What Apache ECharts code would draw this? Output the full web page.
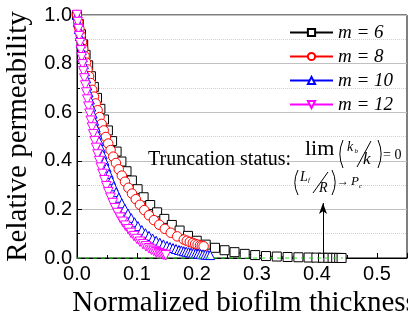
<!DOCTYPE html>
<html><head><meta charset="utf-8">
<script src="https://cdn.jsdelivr.net/npm/echarts@6/dist/echarts.min.js"></script>
<style>html,body{margin:0;padding:0;background:#fff}#c{width:408px;height:320px}</style>
</head><body><div id="c"></div>
<script>
const seriesNames = ['m = 6', 'm = 8', 'm = 10', 'm = 12'];
const m6 = [[0,1.0],[0.003,0.963],[0.0066,0.921],[0.0103,0.879],[0.0143,0.836],[0.0186,0.793],[0.0232,0.748],[0.0281,0.704],[0.0334,0.659],[0.039,0.614],[0.045,0.570],[0.0515,0.525],[0.0585,0.481],[0.066,0.438],[0.074,0.397],[0.0825,0.357],[0.0915,0.319],[0.101,0.283],[0.111,0.250],[0.122,0.218],[0.1335,0.188],[0.1455,0.161],[0.158,0.136],[0.171,0.113],[0.185,0.091],[0.1995,0.071],[0.2145,0.055],[0.23,0.042],[0.246,0.032],[0.2625,0.024],[0.2795,0.017],[0.297,0.012],[0.315,0.008],[0.333,0.006],[0.351,0.004],[0.369,0.003],[0.386,0.002],[0.399,0.0015],[0.41,0.001],[0.419,0.0008],[0.426,0.0006],[0.432,0.0004],[0.437,0.0002],[0.441,0.0001]];
const m8 = [[0,1.0],[0.002,0.972],[0.004,0.944],[0.0061,0.916],[0.0082,0.888],[0.0104,0.860],[0.0127,0.832],[0.0151,0.804],[0.0175,0.776],[0.020,0.748],[0.0227,0.720],[0.0254,0.692],[0.0283,0.664],[0.0312,0.636],[0.0343,0.608],[0.0376,0.580],[0.041,0.552],[0.0445,0.525],[0.0481,0.498],[0.052,0.471],[0.056,0.444],[0.0604,0.417],[0.0649,0.391],[0.0696,0.365],[0.0747,0.339],[0.080,0.314],[0.0857,0.289],[0.0917,0.265],[0.098,0.242],[0.1049,0.219],[0.1121,0.197],[0.1199,0.176],[0.1282,0.156],[0.1371,0.137],[0.1463,0.120],[0.1563,0.104],[0.167,0.089],[0.178,0.076],[0.183,0.071],[0.188,0.066],[0.193,0.062],[0.197,0.058],[0.201,0.055],[0.205,0.052],[0.208,0.050],[0.211,0.048]];
const m10 = [[0,1.0],[0.0015,0.971],[0.003,0.942],[0.0046,0.913],[0.0062,0.884],[0.0078,0.855],[0.0096,0.826],[0.0114,0.797],[0.0132,0.768],[0.0151,0.739],[0.0171,0.710],[0.0192,0.681],[0.0214,0.652],[0.0237,0.623],[0.026,0.594],[0.0285,0.565],[0.0311,0.537],[0.0338,0.509],[0.0366,0.481],[0.0396,0.453],[0.0427,0.426],[0.0459,0.399],[0.0494,0.372],[0.0531,0.346],[0.057,0.320],[0.061,0.295],[0.0653,0.271],[0.0697,0.248],[0.0746,0.225],[0.0797,0.203],[0.0849,0.183],[0.0904,0.164],[0.0959,0.147],[0.1016,0.131],[0.108,0.115],[0.114,0.102],[0.120,0.091],[0.126,0.080],[0.132,0.071],[0.138,0.063],[0.144,0.056],[0.150,0.050],[0.155,0.045],[0.160,0.041],[0.165,0.037],[0.170,0.033],[0.174,0.031],[0.178,0.028],[0.182,0.026],[0.186,0.024],[0.190,0.022],[0.194,0.021],[0.198,0.019],[0.202,0.018],[0.206,0.016],[0.210,0.015],[0.214,0.014],[0.218,0.013],[0.222,0.012]];
const m12 = [[0,1.0],[0.0012,0.971],[0.0024,0.942],[0.0036,0.913],[0.0049,0.884],[0.0063,0.855],[0.0077,0.826],[0.0091,0.797],[0.0106,0.768],[0.0121,0.739],[0.0137,0.710],[0.0154,0.681],[0.0171,0.652],[0.0189,0.623],[0.0208,0.594],[0.0228,0.565],[0.0249,0.537],[0.027,0.509],[0.0293,0.481],[0.0317,0.453],[0.0341,0.426],[0.0368,0.399],[0.0396,0.372],[0.0425,0.346],[0.0456,0.320],[0.0488,0.295],[0.0522,0.271],[0.0558,0.248],[0.0595,0.226],[0.0634,0.205],[0.0675,0.185],[0.0718,0.166],[0.0761,0.149],[0.0807,0.133],[0.0855,0.118],[0.090,0.103],[0.095,0.090],[0.100,0.078],[0.105,0.067],[0.110,0.057],[0.115,0.048],[0.120,0.040],[0.124,0.034],[0.128,0.029],[0.132,0.024],[0.136,0.020],[0.139,0.017],[0.142,0.015],[0.145,0.013],[0.148,0.011]];
const zeroLine = [[0,0],[0.443,0]];
const arrowX = 0.41;
const arrowTop = 0.226;
const xAxisRange = [0, 0.55, 0.1];
const yAxisRange = [0, 1.0, 0.2];
const xLabel = 'Normalized biofilm thickness';
const yLabel = 'Relative permeability';

const colors = ['#000000', '#ff0000', '#0000ff', '#ff00ff'];
const symbols = ['rect', 'circle', 'triangle', 'triangle'];
const rotates = [0, 0, 0, 180];
const sizes = [9, 9.5, 9, 9.5];
const datasets = [m6, m8, m10, m12];

const SERIF = '"Liberation Serif", "Times New Roman", serif';
const SANS = '"Liberation Sans", Arial, sans-serif';

const series = datasets.map((d, i) => ({
  name: seriesNames[i], type: 'line', data: d,
  symbol: symbols[i], symbolSize: sizes[i], symbolRotate: rotates[i],
  showAllSymbol: true,
  itemStyle: { color: '#fff', borderColor: colors[i], borderWidth: 1 },
  lineStyle: { color: colors[i], width: 1 },
  emphasis: { disabled: true }, z: 2 + i
}));
series.push({
  type: 'line', data: zeroLine, showSymbol: false, clip: false, z: 10,
  lineStyle: { color: '#33dd33', width: 1, type: [4, 4] }, emphasis: { disabled: true }
});
series.push({
  type: 'line', data: [], z: 11,
  markLine: {
    silent: true, symbol: ['none', 'arrow'], symbolSize: [6, 11], animation: false,
    label: { show: false }, lineStyle: { color: '#000', width: 1, type: 'solid' },
    data: [[{ coord: [arrowX, 0] }, { coord: [arrowX, arrowTop] }]]
  }
});

function txt(x, y, text, size, italic) {
  return { type: 'text', x: x, y: y, z: 100,
    style: { text: text, font: (italic ? 'italic ' : '') + size + 'px ' + SERIF, fill: '#000', align: 'left', verticalAlign: 'middle' } };
}
function paren(xEdge, cy, half, bulge, left) {
  const r = (half * half + bulge * bulge) / (2 * bulge);
  const th = Math.asin(half / r);
  const cx = left ? xEdge + r : xEdge - r;
  return { type: 'arc', z: 100, shape: { cx: cx, cy: cy, r: r,
    startAngle: left ? Math.PI - th : -th, endAngle: left ? Math.PI + th : th, clockwise: true },
    style: { stroke: '#000', lineWidth: 1, fill: 'none' } };
}
function seg(x1, y1, x2, y2) {
  return { type: 'line', z: 100, shape: { x1: x1, y1: y1, x2: x2, y2: y2 }, style: { stroke: '#000', lineWidth: 1 } };
}

const graphic = [
  txt(148, 160, 'Truncation status:', 20, false),
  txt(305, 149, 'lim', 22, false),
  paren(340, 154, 14, 3, true),
  paren(381, 154, 14, 3, false),
  txt(347, 147, 'k', 14, true),
  txt(354.5, 151, 'b', 7, true),
  seg(357, 167, 371, 141),
  txt(363, 159.5, 'k', 17, true),
  txt(383, 155.5, '= 0', 14, false),
  paren(295, 182.5, 12.5, 3, true),
  paren(335, 182.5, 12.5, 3, false),
  txt(300, 177, 'L', 14, true),
  txt(308, 180.5, 'f', 7, true),
  seg(313, 193, 328, 172),
  txt(319, 188, 'R', 14, true),
  txt(337, 182, '\u2192', 12, false),
  txt(351, 182, 'P', 13, true),
  txt(359, 186, 'c', 7, true)
];

const chart = echarts.init(document.getElementById('c'), null, { renderer: 'canvas' });
chart.setOption({
  animation: false,
  backgroundColor: '#fff',
  grid: { left: 77, right: 1, top: 15, bottom: 62, show: true, borderColor: '#000', borderWidth: 1,
    backgroundColor: 'transparent', containLabel: false, outerBoundsMode: 'none' },
  legend: {
    data: seriesNames, orient: 'vertical', left: 289, top: 23, padding: 0,
    itemWidth: 43, itemHeight: 9, itemGap: 5,
    textStyle: { fontFamily: SERIF, fontStyle: 'italic', fontSize: 19, color: '#000' }
  },
  xAxis: {
    type: 'value', min: xAxisRange[0], max: xAxisRange[1], interval: xAxisRange[2],
    name: xLabel, nameLocation: 'middle', nameGap: 22,
    nameTextStyle: { fontFamily: SERIF, fontSize: 29, color: '#000', padding: [0, 0, 0, 5] },
    axisLine: { show: true, onZero: false, lineStyle: { color: '#000', width: 1 } },
    axisTick: { show: true, inside: true, length: 5, lineStyle: { color: '#000' } },
    minorTick: { show: true, splitNumber: 2, length: 3, lineStyle: { color: '#000' } },
    splitLine: { show: false },
    axisLabel: { fontFamily: SANS, fontSize: 20, color: '#000', margin: 6,
      formatter: v => (v > 0.5001 ? '' : v.toFixed(1)) }
  },
  yAxis: {
    type: 'value', min: yAxisRange[0], max: yAxisRange[1], interval: yAxisRange[2],
    name: yLabel, nameLocation: 'middle', nameGap: 37,
    nameTextStyle: { fontFamily: SERIF, fontSize: 29, color: '#000' },
    axisLine: { show: true, onZero: false, lineStyle: { color: '#000', width: 1 } },
    axisTick: { show: true, inside: true, length: 5, lineStyle: { color: '#000' } },
    minorTick: { show: true, splitNumber: 2, length: 3, lineStyle: { color: '#000' } },
    splitLine: { show: true, lineStyle: { color: '#c0c0c0', width: 1 } },
    minorSplitLine: { show: true, lineStyle: { color: '#d0d0d0', width: 1, type: [1, 1] } },
    axisLabel: { fontFamily: SANS, fontSize: 20, color: '#000', margin: 5,
      formatter: v => v.toFixed(1) }
  },
  series: series,
  graphic: graphic
});
</script></body></html>
